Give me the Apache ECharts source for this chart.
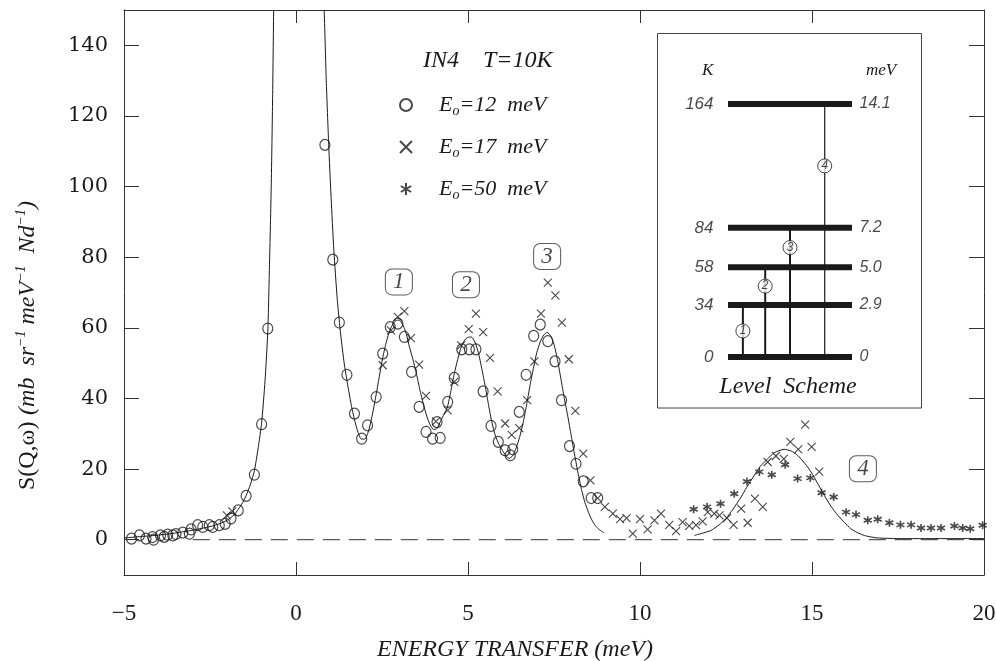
<!DOCTYPE html>
<html><head><meta charset="utf-8">
<script src="https://cdn.jsdelivr.net/npm/echarts@6/dist/echarts.min.js"></script>
<style>html,body{margin:0;padding:0;background:#fff}#c{width:996px;height:661px}</style>
</head><body><div id="c"></div>
<script>
// ---- data ----
const xTicks = [-5, 0, 5, 10, 15, 20];
const yTicks = [0, 20, 40, 60, 80, 100, 120, 140];

const e12 = [[-4.78,0.3],[-4.55,1.2],[-4.36,0.3],[-4.17,0.75],[-4.14,0],[-3.94,1.2],[-3.83,0.8],[-3.73,1.4],[-3.58,1.2],[-3.49,1.6],[-3.29,2.0],[-3.10,1.7],[-3.05,2.9],[-2.86,4.1],[-2.71,3.6],[-2.52,4.1],[-2.42,3.6],[-2.23,4.1],[-2.06,4.5],[-1.89,6.0],[-1.68,8.3],[-1.45,12.4],[-1.21,18.4],[-1.00,32.7],[-0.82,59.8],[0.84,111.8],[1.07,79.3],[1.26,61.5],[1.48,46.7],[1.70,35.7],[1.91,28.6],[2.08,32.4],[2.33,40.4],[2.52,52.7],[2.74,60.2],[2.96,61.2],[3.15,57.4],[3.36,47.5],[3.58,37.6],[3.78,30.5],[3.97,28.6],[4.10,33.3],[4.19,28.8],[4.41,39.0],[4.60,45.8],[4.82,53.9],[5.04,53.9],[5.23,53.9],[5.44,42.0],[5.67,32.2],[5.88,27.7],[6.08,25.3],[6.23,23.9],[6.30,25.6],[6.49,36.2],[6.69,46.7],[6.91,57.7],[7.10,60.9],[7.32,56.2],[7.53,50.5],[7.72,39.5],[7.95,26.5],[8.14,21.5],[8.35,16.5],[8.58,11.8],[8.77,11.8]];

const e17 = [[-2.01,6.9],[-1.85,8.0],[2.52,49.4],[2.76,59.3],[2.96,63.1],[3.15,64.7],[3.34,57.1],[3.58,49.6],[3.78,40.7],[4.07,33.5],[4.41,36.6],[4.60,44.7],[4.80,55.0],[5.02,59.6],[5.23,64.0],[5.44,58.8],[5.64,51.5],[5.86,42.0],[6.08,32.9],[6.27,29.7],[6.49,31.6],[6.72,39.5],[6.93,50.5],[7.12,64.0],[7.32,72.8],[7.54,69.2],[7.73,61.5],[7.93,51.1],[8.12,36.5],[8.35,24.4],[8.56,16.8],[8.77,11.8],[8.98,9.3],[9.21,7.4],[9.42,5.8],[9.61,6.1],[9.79,1.7],[10.0,5.8],[10.22,2.9],[10.42,5.5],[10.61,7.4],[10.85,4.2],[11.05,2.4],[11.24,5.0],[11.43,3.9],[11.63,4.1],[11.82,5.2],[11.97,7.8],[12.16,7.4],[12.31,6.9],[12.53,6.1],[12.72,4.2],[12.94,8.8],[13.13,4.8],[13.34,11.6],[13.57,9.3],[13.71,22.0],[13.95,23.7],[14.18,22.9],[14.37,27.7],[14.60,25.6],[14.80,32.6],[14.99,26.3],[15.21,19.3]];

const e50 = [[11.56,8.6],[11.95,9.3],[12.34,10.2],[12.74,13.0],[13.11,16.5],[13.47,19.2],[13.83,18.4],[14.22,21.2],[14.58,17.3],[14.95,17.5],[15.28,13.3],[15.63,12.1],[15.99,7.8],[16.28,7.1],[16.62,5.5],[16.91,5.8],[17.25,4.8],[17.57,4.2],[17.88,4.2],[18.17,3.3],[18.46,3.3],[18.75,3.3],[19.14,3.9],[19.38,3.3],[19.60,3.1],[19.96,4.1]];

const fitLeft = [[-5,0.5],[-4.5,0.9],[-4,1.3],[-3.5,1.9],[-3,2.7],[-2.5,3.7],[-2.2,4.6],[-2.0,5.5],[-1.8,7.0],[-1.68,8.6],[-1.55,10.5],[-1.45,12.5],[-1.33,15.5],[-1.21,19.5],[-1.1,26],[-1.0,33],[-0.9,45],[-0.82,59],[-0.77,78],[-0.72,100],[-0.68,125],[-0.65,150]];

const fitRight = [[0.82,150],[0.88,130],[0.95,112],[1.02,97],[1.1,82],[1.2,68],[1.3,58],[1.4,50],[1.5,44],[1.6,38.5],[1.7,34],[1.8,30.5],[1.9,28.5],[2.0,28.5],[2.1,30.5],[2.2,34.5],[2.3,39.5],[2.4,45],[2.5,50.5],[2.6,55],[2.7,58.5],[2.8,60.8],[2.9,62],[3.0,62.2],[3.1,61],[3.2,58.5],[3.3,54.5],[3.4,51],[3.5,47],[3.6,42.5],[3.7,38.5],[3.8,35],[3.9,32.5],[4.0,31.2],[4.1,31.5],[4.2,33.5],[4.3,35.5],[4.4,37.5],[4.5,42],[4.6,47],[4.7,51],[4.8,54.5],[4.9,56.5],[5.0,57.3],[5.1,57.4],[5.2,56],[5.3,53],[5.4,48.5],[5.5,43.5],[5.6,38],[5.7,33],[5.8,29.3],[5.9,27],[6.0,25.3],[6.1,23.8],[6.2,23],[6.3,23.8],[6.4,26],[6.5,29],[6.6,33],[6.7,38],[6.8,43.5],[6.9,48.5],[7.0,53],[7.1,56],[7.2,58],[7.3,58.7],[7.4,57.8],[7.5,55.3],[7.6,51],[7.7,45.6],[7.8,40],[7.9,35],[8.0,29.5],[8.1,24],[8.2,18.8],[8.3,14.2],[8.4,10.5],[8.5,7.8],[8.6,5.6],[8.7,4.0],[8.8,3.0],[8.9,2.3],[8.95,2.0]];

const fitPeak4 = [[11.58,1.2],[11.8,1.8],[12.06,2.6],[12.3,4.2],[12.5,6.0],[12.7,8.6],[12.94,12.1],[13.1,14.8],[13.32,18.2],[13.5,20.8],[13.71,22.9],[13.9,24.6],[14.19,25.6],[14.4,25.1],[14.58,23.9],[14.8,21.5],[14.97,19.2],[15.2,15.3],[15.36,12.5],[15.55,9.5],[15.75,6.9],[15.95,4.8],[16.13,3.1],[16.3,2.1],[16.52,1.2],[16.7,0.8],[16.91,0.5],[17.5,0.3],[20,0.3]];

const baseline = [[-3,0],[20,0]];

const peakNames = ['1','2','3','4'];
const peakAt = [[2.99,73.0],[4.94,72.2],[7.30,80.2],[16.48,20.1]];

const levelK = ['0','34','58','84','164'];
const levelMeV = [0, 2.9, 5.0, 7.2, 14.1];
const levelMeVText = ['0','2.9','5.0','7.2','14.1'];
const transitionNames = ['1','2','3','4'];
const transitionSlot = [1.2, 3.0, 5.0, 7.8];

const seriesNames = ['E0=12 meV','E0=17 meV','E0=50 meV'];

// ---- styles ----
const INK = '#1a1a1a';
const SERIF = 'Liberation Serif';
const crossPath = 'path://M0,0L10,10M10,0L0,10';
const starPath = 'path://M5,0L5,10M0.7,2.5L9.3,7.5M9.3,2.5L0.7,7.5';

const mainSeries = [
  {type:'line', data: baseline, symbol:'none', lineStyle:{color:'#333', width:1, type:[17,9]}, z:1, silent:true},
  {type:'line', data: fitLeft, symbol:'none', smooth:0.2, lineStyle:{color:INK, width:1}, silent:true},
  {type:'line', data: fitRight, symbol:'none', smooth:0.2, lineStyle:{color:INK, width:1}, silent:true},
  {type:'line', data: fitPeak4, symbol:'none', smooth:0.2, lineStyle:{color:INK, width:1}, silent:true},
  {name: seriesNames[0], type:'scatter', data: e12, symbol:'circle', symbolSize:[10,11],
   itemStyle:{color:'rgba(0,0,0,0)', borderColor:INK, borderWidth:1.2}},
  {name: seriesNames[1], type:'scatter', data: e17, symbol: crossPath, symbolSize:8,
   itemStyle:{color:'rgba(0,0,0,0)', borderColor:INK, borderWidth:1.1}},
  {name: seriesNames[2], type:'scatter', data: e50, symbol: starPath, symbolSize:8,
   itemStyle:{color:'rgba(0,0,0,0)', borderColor:INK, borderWidth:1.6}},
  {type:'scatter', data: peakAt.map((p,i)=>({value:p, name:peakNames[i]})), symbol:'roundRect', symbolSize:[27,26], z:5, silent:true,
   itemStyle:{color:'#fff', borderColor:'#333', borderWidth:1},
   label:{show:true, position:'inside', formatter: p => p.name, color:INK, fontFamily:SERIF, fontStyle:'italic', fontSize:23}}
];

// inset level scheme (grid 1)
const insetSeries = [];
levelMeV.forEach((E,i)=>{
  insetSeries.push({type:'line', xAxisIndex:2, yAxisIndex:2, data:[[0,E],[10,E]], symbol:'none', lineStyle:{color:INK, width:6}, silent:true, z:3});
});
transitionSlot.forEach((s,i)=>{
  insetSeries.push({type:'line', xAxisIndex:2, yAxisIndex:2, data:[[s,0],[s,levelMeV[i+1]]], symbol:'none',
    lineStyle:{color:INK, width: i===3 ? 1.2 : 2}, silent:true, z:3});
});
insetSeries.push({type:'scatter', xAxisIndex:2, yAxisIndex:2, z:6, silent:true,
  data: transitionSlot.map((s,i)=>({value:[s,(levelMeV[i+1]+levelMeV[i])/2], name:transitionNames[i]})),
  symbol:'circle', symbolSize:14, itemStyle:{color:'#fff', borderColor:INK, borderWidth:1},
  label:{show:true, position:'inside', formatter:p=>p.name, fontFamily:'Liberation Sans', fontStyle:'italic', fontSize:12, color:INK}});
insetSeries.push({type:'scatter', xAxisIndex:2, yAxisIndex:2, silent:true, symbolSize:1, itemStyle:{color:'rgba(0,0,0,0)'},
  data: levelMeV.map((E,i)=>({value:[0,E], name:levelK[i]})),
  label:{show:true, position:'left', distance:14, formatter:p=>p.name, fontFamily:'Liberation Sans', fontStyle:'italic', fontSize:17, color:INK}});
insetSeries.push({type:'scatter', xAxisIndex:2, yAxisIndex:2, silent:true, symbolSize:1, itemStyle:{color:'rgba(0,0,0,0)'},
  data: levelMeV.map((E,i)=>({value:[10,E], name:levelMeVText[i]})),
  label:{show:true, position:'right', distance:7, formatter:p=>p.name, fontFamily:'Liberation Sans', fontStyle:'italic', fontSize:16, color:INK}});

const axisLineStyle = {color:'#333', width:1};
const option = {
  animation:false,
  backgroundColor:'#fff',
  title:{text:'IN4    T=10K', left:418, top:44, textStyle:{fontFamily:SERIF, fontStyle:'italic', fontWeight:'normal', fontSize:24, color:INK}},
  legend:{
    data: seriesNames, orient:'vertical', left:394, top:89, itemWidth:12, itemHeight:12, itemGap:18,
    formatter: n => {
      const v = n.split('=')[1];
      return '{f|E}{s|o}{e|=' + v.replace(' ', '  ') + '}';
    },
    textStyle:{color:INK, fontFamily:SERIF, fontStyle:'italic', fontSize:22,
      rich:{
        f:{fontFamily:SERIF, fontStyle:'italic', fontSize:22, lineHeight:26, padding:[0,0,0,22], color:INK},
        e:{fontFamily:SERIF, fontStyle:'italic', fontSize:22, lineHeight:26, color:INK},
        s:{fontFamily:SERIF, fontStyle:'italic', fontSize:14, lineHeight:14, verticalAlign:'bottom', color:INK}
      }}
  },
  grid:[
    {left:124, right:12, top:10, bottom:86, outerBoundsMode:'none', containLabel:false},
    {left:728, right:144, top:104, bottom:304, outerBoundsMode:'none', containLabel:false}
  ],
  xAxis:[
    {type:'value', gridIndex:0, min:-5, max:20, interval:5, position:'bottom',
     axisLine:{show:true, onZero:false, lineStyle:axisLineStyle}, axisTick:{inside:true, length:13, lineStyle:axisLineStyle},
     splitLine:{show:false},
     axisLabel:{margin:27, color:INK, fontFamily:SERIF, fontSize:23, formatter:v=>String(v).replace('-','\u2212')},
     name:'ENERGY TRANSFER (meV)', nameLocation:'middle', nameGap:63,
     nameTextStyle:{fontFamily:SERIF, fontStyle:'italic', fontSize:24, color:INK, padding:[0,78,0,0]}},
    {type:'value', gridIndex:0, min:-5, max:20, interval:5, position:'top',
     axisLine:{show:true, onZero:false, lineStyle:axisLineStyle}, axisTick:{inside:true, length:13, lineStyle:axisLineStyle},
     axisLabel:{show:false}, splitLine:{show:false}},
    {type:'value', gridIndex:1, min:0, max:10, show:false}
  ],
  yAxis:[
    {type:'value', gridIndex:0, min:-10, max:150, position:'left',
     axisLine:{show:true, onZero:false, lineStyle:axisLineStyle},
     axisTick:{inside:true, length:15, lineStyle:axisLineStyle, customValues:yTicks},
     axisLabel:{customValues:yTicks, margin:16, color:INK, fontFamily:'DejaVu Serif', fontSize:21},
     splitLine:{show:false},
     name:'{r|S(Q,\u03c9)} {i|(mb  sr}{p|\u22121}{i| meV}{p|\u22121}{i|  Nd}{p|\u22121}{i|)}',
     nameLocation:'middle', nameGap:82,
     nameTextStyle:{padding:[0,106,0,0], color:INK, fontSize:24,
       rich:{
         r:{fontFamily:SERIF, fontSize:24, lineHeight:28, color:INK},
         i:{fontFamily:SERIF, fontStyle:'italic', fontSize:24, lineHeight:28, color:INK},
         p:{fontFamily:SERIF, fontStyle:'italic', fontSize:14, lineHeight:14, verticalAlign:'top', color:INK}
       }}},
    {type:'value', gridIndex:0, min:-10, max:150, position:'right',
     axisLine:{show:true, onZero:false, lineStyle:axisLineStyle},
     axisTick:{inside:true, length:15, lineStyle:axisLineStyle, customValues:yTicks},
     axisLabel:{show:false}, splitLine:{show:false}},
    {type:'value', gridIndex:1, min:0, max:14.1, show:false}
  ],
  graphic:[
    {type:'rect', z:0, shape:{x:657.5, y:33.5, width:264, height:374.5}, style:{fill:'#fff', stroke:'#444', lineWidth:1}},
    {type:'text', z:10, left:702, top:62, style:{text:'K', font:'italic 17px "Liberation Serif"', fill:INK}},
    {type:'text', z:10, left:866, top:62, style:{text:'meV', font:'italic 17px "Liberation Serif"', fill:INK}},
    {type:'text', z:10, x:788, y:387, style:{text:'Level  Scheme', font:'italic 24px "Liberation Serif"', fill:INK, align:'center', verticalAlign:'middle'}}
  ],
  series: mainSeries.concat(insetSeries)
};
const chart = echarts.init(document.getElementById('c'), null, {renderer:'canvas'});
chart.setOption(option);
</script></body></html>
